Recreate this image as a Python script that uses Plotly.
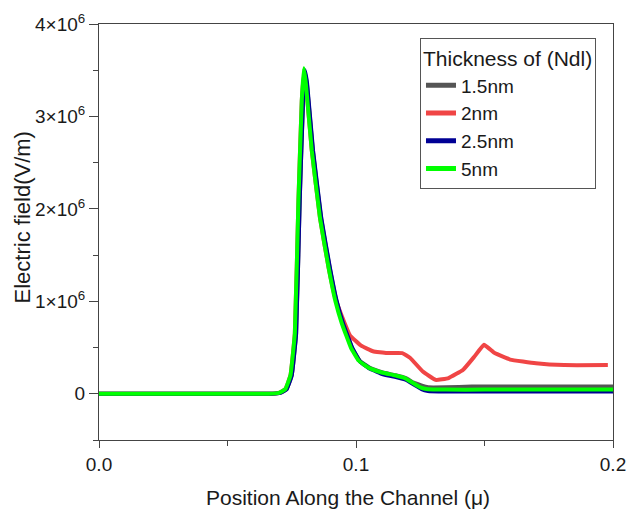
import plotly.graph_objects as go

# Data (x in micrometres, y in units of 1e6 V/m)
x_green = [0, 0.066, 0.070, 0.0725, 0.0745, 0.0762, 0.0776, 0.0789, 0.0797, 0.0805, 0.0828, 0.086,
           0.0893, 0.092, 0.0945, 0.098, 0.101, 0.105, 0.110, 0.115, 0.119, 0.122, 0.125, 0.128,
           0.135, 0.15, 0.17, 0.2]
y_green = [0, 0, 0.01, 0.05, 0.2, 0.65, 2.09, 3.17, 3.52, 3.35, 2.63, 1.9,
           1.37, 1.0, 0.76, 0.5, 0.36, 0.28, 0.23, 0.2, 0.17, 0.12, 0.07, 0.05,
           0.045, 0.045, 0.045, 0.045]

x_gray = [0, 0.067, 0.0705, 0.073, 0.075, 0.0767, 0.0781, 0.0794, 0.0801, 0.0809, 0.0832, 0.0864,
          0.0897, 0.0924, 0.0949, 0.0984, 0.1014, 0.1054, 0.1104, 0.1154, 0.1194, 0.1224, 0.1254,
          0.128, 0.135, 0.145, 0.17, 0.2]
y_gray = [0, 0, 0.01, 0.05, 0.2, 0.65, 2.09, 3.17, 3.48, 3.35, 2.63, 1.9,
          1.37, 1.0, 0.76, 0.5, 0.36, 0.28, 0.23, 0.2, 0.17, 0.12, 0.09, 0.07,
          0.07, 0.078, 0.078, 0.078]

x_blue = [0, 0.067, 0.0705, 0.073, 0.075, 0.0767, 0.0781, 0.0794, 0.0802, 0.081, 0.0833, 0.0865,
          0.0898, 0.0925, 0.095, 0.0985, 0.1015, 0.1055, 0.1105, 0.1155, 0.1195, 0.1225, 0.1255,
          0.128, 0.135, 0.15, 0.17, 0.2]
y_blue = [0, 0, 0.01, 0.05, 0.2, 0.65, 2.09, 3.17, 3.5, 3.35, 2.63, 1.9,
          1.37, 1.0, 0.76, 0.5, 0.35, 0.27, 0.21, 0.18, 0.15, 0.1, 0.05, 0.03,
          0.025, 0.025, 0.025, 0.025]

x_red = [0, 0.066, 0.070, 0.0725, 0.0745, 0.0762, 0.0776, 0.0789, 0.0797, 0.0805, 0.0828, 0.086,
         0.0893, 0.092, 0.0945, 0.0977, 0.102, 0.1066, 0.112, 0.118, 0.121, 0.126, 0.131, 0.136,
         0.1417, 0.146, 0.1498, 0.154, 0.160, 0.170, 0.181, 0.198]
y_red = [0, 0, 0.01, 0.05, 0.2, 0.65, 2.09, 3.17, 3.45, 3.35, 2.63, 1.9,
         1.37, 1.03, 0.84, 0.63, 0.52, 0.46, 0.44, 0.44, 0.39, 0.24, 0.15, 0.17,
         0.26, 0.4, 0.53, 0.44, 0.37, 0.33, 0.31, 0.31]

series = [
    ("1.5nm", x_gray, y_gray, "#555555"),
    ("2nm", x_red, y_red, "#f04545"),
    ("2.5nm", x_blue, y_blue, "#000095"),
    ("5nm", x_green, y_green, "#00ff00"),
]

y_tickvals = [0, 1, 2, 3, 4]
y_ticktext = ["0", "1×10<sup>6</sup>", "2×10<sup>6</sup>", "3×10<sup>6</sup>", "4×10<sup>6</sup>"]
x_tickvals = [0.0, 0.1, 0.2]
x_ticktext = ["0.0", "0.1", "0.2"]
x_title = "Position Along the Channel (μ)"
y_title = "Electric field(V/m)"
legend_title = "Thickness of (Ndl)"

fig = go.Figure()
for name, xs, ys, col in series:
    fig.add_trace(go.Scatter(x=xs, y=[v * 1e6 for v in ys], mode="lines", name=name,
                             line=dict(color=col, width=4, shape="spline", smoothing=0.3)))

font = "Liberation Sans, Arial, sans-serif"
txt = "#1a1a1a"
fig.update_layout(
    width=627, height=511,
    margin=dict(l=99, r=14, t=24, b=71),
    plot_bgcolor="white", paper_bgcolor="white",
    font=dict(family=font, color=txt),
    showlegend=True,
    legend=dict(
        title=dict(text=legend_title, font=dict(size=21, family=font, color=txt)),
        font=dict(size=19, family=font, color=txt),
        x=0.6245, y=0.966, xanchor="left", yanchor="top",
        bgcolor="white", bordercolor="#555555", borderwidth=1,
        tracegroupgap=0, itemsizing="constant",
    ),
    xaxis=dict(
        range=[0, 0.2], tickvals=x_tickvals, ticktext=x_ticktext,
        showgrid=False, zeroline=False, automargin=False,
        showline=True, linecolor="#444444", linewidth=1, mirror=True,
        ticks="outside", ticklen=7, tickcolor="#444444",
        tickfont=dict(size=19, family=font, color=txt),
        minor=dict(dtick=0.05, tick0=0, ticks="outside", ticklen=5, tickcolor="#444444", showgrid=False),
    ),
    yaxis=dict(
        range=[-0.5e6, 4e6], tickvals=[v * 1e6 for v in y_tickvals], ticktext=y_ticktext,
        showgrid=False, zeroline=False, automargin=False,
        showline=True, linecolor="#444444", linewidth=1, mirror=True,
        ticks="outside", ticklen=9, tickcolor="#444444",
        tickfont=dict(size=19, family=font, color=txt),
        minor=dict(dtick=0.5e6, tick0=0, ticks="outside", ticklen=5, tickcolor="#444444", showgrid=False),
    ),
    annotations=[
        dict(text=x_title, xref="paper", yref="paper", x=0.4854, y=0, xanchor="center",
             yanchor="middle", yshift=-57, showarrow=False,
             font=dict(size=21, family=font, color=txt)),
        dict(text=y_title, xref="paper", yref="paper", x=0, y=0.535, xanchor="center",
             yanchor="middle", xshift=-77, textangle=-90, showarrow=False,
             font=dict(size=22, family=font, color=txt)),
    ],
)

fig.write_html("out.html", config={"displayModeBar": False},
               post_script="document.body.style.margin='0';")
